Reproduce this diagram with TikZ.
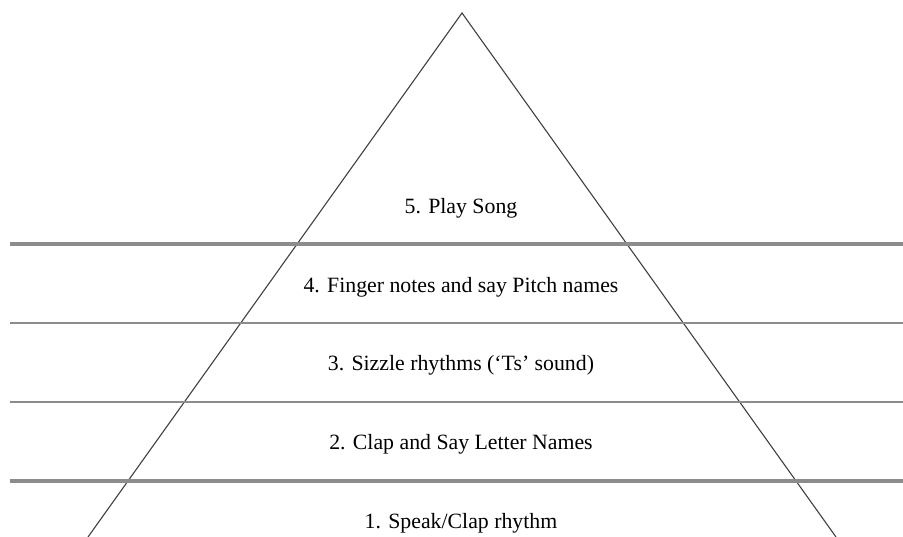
\documentclass[tikz,border=0pt]{standalone}
\usepackage{fontspec}
\setmainfont{Liberation Serif}
\begin{document}
\begin{tikzpicture}[x=1pt,y=-1pt,
  thickrule/.style={draw=black!45,line width=4pt},
  thinrule/.style={draw=black!45,line width=2.8pt},
  side/.style={draw=black!75,line width=1.1pt},
  lbl/.style={font=\fontsize{21.8}{24}\selectfont,inner sep=0pt}]
\useasboundingbox (0,0) rectangle (903,537);
\coordinate (apex) at (462,13);
\coordinate (bl) at (88,537);
\coordinate (br) at (836,537);
\draw[side] (bl) -- (apex) -- (br);
\coordinate (r1a) at (10,244); \coordinate (r1b) at (903,244);
\coordinate (r2a) at (10,323); \coordinate (r2b) at (903,323);
\coordinate (r3a) at (10,402); \coordinate (r3b) at (903,402);
\coordinate (r4a) at (10,481); \coordinate (r4b) at (903,481);
\draw[thickrule] (r1a) -- (r1b);
\draw[thinrule] (r2a) -- (r2b);
\draw[thinrule] (r3a) -- (r3b);
\draw[thickrule] (r4a) -- (r4b);
\node[lbl] (t5) at (461,208) {5. Play Song};
\node[lbl] (t4) at (461,287) {4. Finger notes and say Pitch names};
\node[lbl] (t3) at (461,365) {3. Sizzle rhythms (‘Ts’ sound)};
\node[lbl] (t2) at (461,444) {2. Clap and Say Letter Names};
\node[lbl] (t1) at (461,523) {1. Speak/Clap rhythm};
\end{tikzpicture}
\end{document}
